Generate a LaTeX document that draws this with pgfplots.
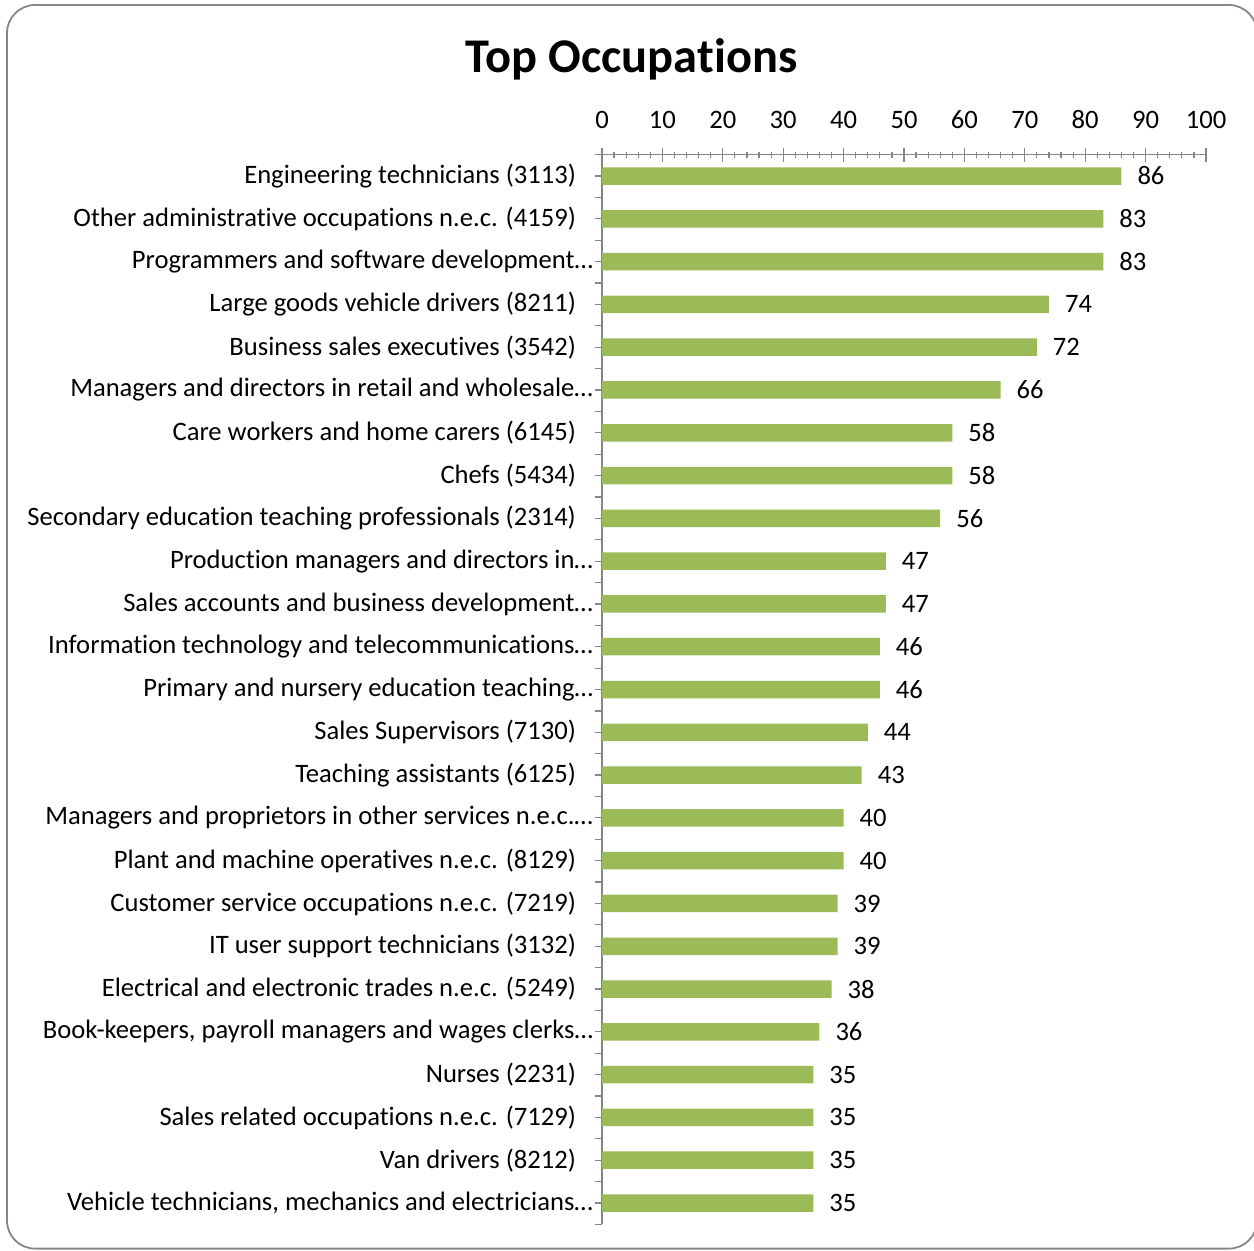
\documentclass[border=0pt]{standalone}
\usepackage{fontspec}
\setmainfont{Carlito}[Ligatures=NoCommon]
\usepackage{pgfplots}
\pgfplotsset{compat=1.18}
\definecolor{barg}{HTML}{9BBB59}
\definecolor{axg}{HTML}{868686}
\newcommand{\tr}{…\hspace*{-8.5pt}\mbox{}}
\begin{document}
\begin{tikzpicture}
\useasboundingbox (0,0) rectangle (627pt,-625pt);
\draw[axg, line width=0.9pt, rounded corners=14pt] (3.5pt,-2.5pt) rectangle (628.5pt,-624.3pt);
\node[font=\fontsize{24.2}{28}\selectfont\bfseries, inner sep=0pt] at (315.8pt,-29.5pt) {Top Occupations};
\begin{axis}[
  at={(301pt,-77.3pt)}, anchor=north west,
  scale only axis, width=302pt, height=534.9pt,
  xbar, bar width=8.75pt, bar shift=0pt,
  xmin=0, xmax=100, ymin=-0.5, ymax=24.5,
  enlargelimits=false, clip=false,
  axis x line*=top, axis y line*=left,
  axis line style={axg, -, line width=0.6pt},
  every tick/.style={axg, line width=0.6pt},
  xtick={0,10,...,100},
  minor x tick num=4,
  xtick align=center,
  major tick length=7pt,
  minor tick length=3pt,
  ytick={0,...,24},
  ytick align=center,
  extra y ticks={-0.5,0.5,...,24.5},
  extra y tick labels={},
  extra y tick style={ytick align=outside, major tick length=3.5pt},
  ticklabel style={font=\fontsize{13.3}{15}\selectfont, text=black},
  /pgf/number format/assume math mode=true,
  xticklabel style={yshift=6pt},
  yticklabel style={anchor=east, xshift=-6pt},
  yticklabels={
    {Vehicle technicians, mechanics and electricians\tr},
    {Van drivers (8212)},
    {Sales related occupations n.e.c. (7129)},
    {Nurses (2231)},
    {Book-keepers, payroll managers and wages clerks\tr},
    {Electrical and electronic trades n.e.c. (5249)},
    {IT user support technicians (3132)},
    {Customer service occupations n.e.c. (7219)},
    {Plant and machine operatives n.e.c. (8129)},
    {Managers and proprietors in other services n.e.c.\tr},
    {Teaching assistants (6125)},
    {Sales Supervisors (7130)},
    {Primary and nursery education teaching\tr},
    {Information technology and telecommunications\tr},
    {Sales accounts and business development\tr},
    {Production managers and directors in\tr},
    {Secondary education teaching professionals (2314)},
    {Chefs (5434)},
    {Care workers and home carers (6145)},
    {Managers and directors in retail and wholesale\tr},
    {Business sales executives (3542)},
    {Large goods vehicle drivers (8211)},
    {Programmers and software development\tr},
    {Other administrative occupations n.e.c. (4159)},
    {Engineering technicians (3113)}
  },
  nodes near coords,
  nodes near coords style={font=\fontsize{13.3}{15}\selectfont, text=black, anchor=west, xshift=4.5pt},
]
\addplot[fill=barg, draw=none] coordinates {
  (35,0) (35,1) (35,2) (35,3) (36,4) (38,5) (39,6) (39,7) (40,8) (40,9)
  (43,10) (44,11) (46,12) (46,13) (47,14) (47,15) (56,16) (58,17) (58,18) (66,19)
  (72,20) (74,21) (83,22) (83,23) (86,24)
};
\end{axis}
\end{tikzpicture}
\end{document}
